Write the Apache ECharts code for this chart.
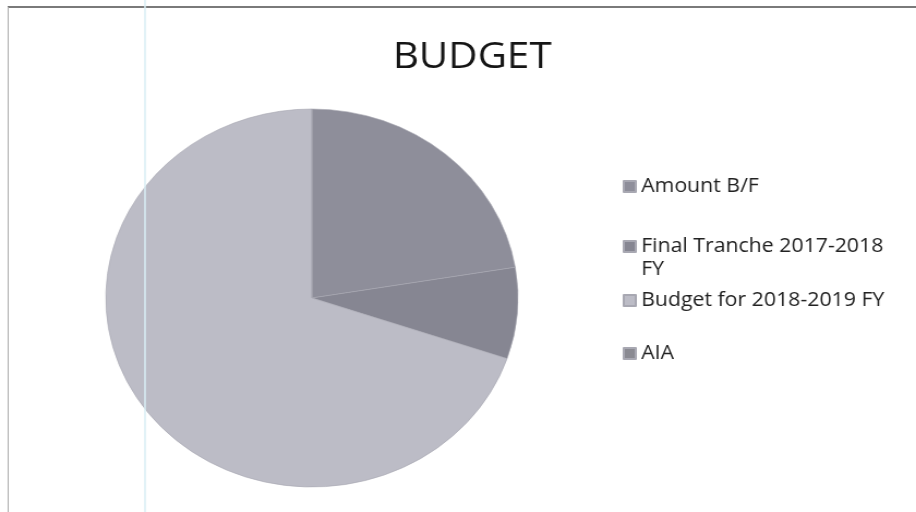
<!DOCTYPE html>
<html>
<head>
<meta charset="utf-8">
<script src="https://cdn.jsdelivr.net/npm/echarts@6/dist/echarts.min.js"></script>
<style>
html,body{margin:0;padding:0;background:#fff;overflow:hidden;}
#wrap{width:916px;height:512px;position:relative;overflow:hidden;}
#chart{width:840px;height:512px;position:absolute;left:0;top:0;transform:scaleX(1.0905);transform-origin:0 0;}
</style>
</head>
<body>
<div id="wrap"><div id="chart"></div></div>
<script>
const categories = ['Amount B/F', 'Final Tranche 2017-2018 FY', 'Budget for 2018-2019 FY', 'AIA'];
const values = [22.4, 7.8, 69.8, 0];
const colors = ['#8e8e9a', '#868692', '#bcbcc6', '#8a8a92'];
const legendTops = [170, 207, 284, 337];

const chart = echarts.init(document.getElementById('chart'));
const font = '"Open Sans", sans-serif';

const legends = categories.map((c, i) => ({
  data: [c],
  orient: 'vertical',
  left: 566,
  top: legendTops[i],
  itemWidth: 11,
  itemHeight: 11,
  itemGap: 0,
  icon: 'rect',
  selectedMode: false,
  formatter: (n) => n === 'Final Tranche 2017-2018 FY' ? ' \nFinal Tranche 2017-2018\nFY' : n,
  textStyle: { fontFamily: font, fontSize: 19.5, color: '#222', lineHeight: 23 }
}));

chart.setOption({
  animation: false,
  backgroundColor: '#fff',
  color: colors,
  title: {
    text: 'BUDGET',
    left: 428,
    textAlign: 'center',
    top: 34,
    textStyle: { fontFamily: font, fontSize: 37, fontWeight: 'normal', color: '#151515' }
  },
  legend: legends,
  graphic: [
    { type: 'line', shape: { x1: 7, y1: 7, x2: 840, y2: 7 }, style: { stroke: '#7a7a7a', lineWidth: 2 } },
    { type: 'line', shape: { x1: 7.5, y1: 7, x2: 7.5, y2: 512 }, style: { stroke: '#b0b0b0', lineWidth: 1 } },
    { type: 'line', shape: { x1: 133, y1: 0, x2: 133, y2: 512 }, style: { stroke: '#d8eef5', lineWidth: 1.5 }, z: 100 }
  ],
  series: [{
    type: 'pie',
    center: [286, 298],
    radius: 189,
    startAngle: 90,
    clockwise: true,
    label: { show: false },
    labelLine: { show: false },
    emphasis: { disabled: true },
    itemStyle: { borderColor: '#a8a8b2', borderWidth: 0.6 },
    data: categories.map((c, i) => ({ name: c, value: values[i] }))
  }]
});
</script>
</body>
</html>
